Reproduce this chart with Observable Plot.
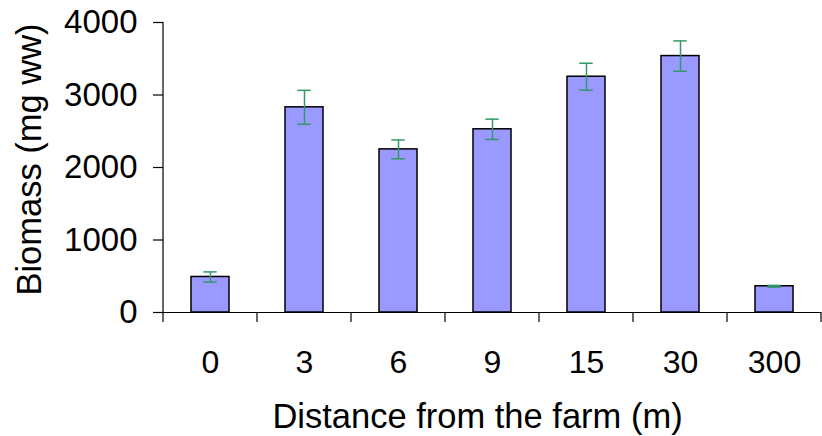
<!DOCTYPE html>
<html><head><meta charset="utf-8">
<script src="https://cdn.jsdelivr.net/npm/d3@7"></script>
<script src="https://cdn.jsdelivr.net/npm/@observablehq/plot@0.6"></script>
<style>body{margin:0;background:#fff} svg{display:block}</style>
</head><body><div id="chart"></div><script>
const distances = ["0", "3", "6", "9", "15", "30", "300"];
const biomass = [490, 2830, 2250, 2527, 3252, 3537, 362];
const stdErr = [70, 234, 130, 140, 186, 209, 12];
const yTicks = [0, 1000, 2000, 3000, 4000];
const xTitle = "Distance from the farm (m)";
const yTitle = "Biomass (mg ww)";

const data = distances.map((d, i) => ({
  distance: d, biomass: biomass[i],
  lo: biomass[i] - stdErr[i], hi: biomass[i] + stdErr[i]
}));

const errColor = "#339966";
const font = "Liberation Sans, Arial, sans-serif";

const plot = Plot.plot({
  width: 822, height: 436,
  marginLeft: 163, marginRight: 1, marginTop: 22, marginBottom: 124,
  style: {fontFamily: font, background: "white", color: "black", overflow: "visible"},
  x: {domain: distances, paddingInner: 0.6, paddingOuter: 0.3, label: null},
  y: {domain: [0, 4000], label: null},
  marks: [
    Plot.barY(data, {x: "distance", y: "biomass", fill: "#9999ff", stroke: "black", strokeWidth: 1.5}),
    Plot.ruleX(data, {x: "distance", y1: "lo", y2: "hi", stroke: errColor, strokeWidth: 1.5}),
    Plot.tickY(data, {x: "distance", y: "lo", stroke: errColor, strokeWidth: 1.5, insetLeft: 12.3, insetRight: 12.3}),
    Plot.tickY(data, {x: "distance", y: "hi", stroke: errColor, strokeWidth: 1.5, insetLeft: 12.3, insetRight: 12.3}),
    Plot.ruleY([0], {stroke: "black", strokeWidth: 1.2, insetLeft: -10}),
    Plot.axisY({ticks: yTicks, tickSize: 10, tickPadding: 16, fontSize: 33, tickFormat: d3.format("d"), stroke: "black", strokeWidth: 1.2}),
    Plot.axisX({tickSize: 0, tickPadding: 38, fontSize: 32}),
    Plot.text([xTitle], {frameAnchor: "bottom", textAnchor: "middle", lineAnchor: "middle", dx: -15, dy: 104, fontSize: 34.5, fill: "black"}),
    Plot.text([yTitle], {frameAnchor: "left", textAnchor: "middle", lineAnchor: "middle", rotate: -90, dx: -134, dy: -8, fontSize: 34.5, fill: "black"})
  ]
});

document.getElementById("chart").appendChild(plot);

// axis lines and boundary ticks, placed with the plot's own scales
const xs = plot.scale("x");
const ys = plot.scale("y");
const svg = d3.select(plot);
const gap = (xs.step - xs.bandwidth) / 2;
const bounds = distances.map(d => xs.apply(d) - gap);
bounds.push(xs.apply(distances[distances.length - 1]) + xs.bandwidth + gap);
const y0 = ys.apply(0);
const g = svg.append("g").attr("stroke", "black").attr("stroke-width", 1.2);
g.selectAll("line.b").data(bounds).join("line")
  .attr("x1", d => d).attr("x2", d => d)
  .attr("y1", y0).attr("y2", y0 + 10);
g.append("line")
  .attr("x1", bounds[0]).attr("x2", bounds[0])
  .attr("y1", ys.apply(4000)).attr("y2", y0);
</script></body></html>
